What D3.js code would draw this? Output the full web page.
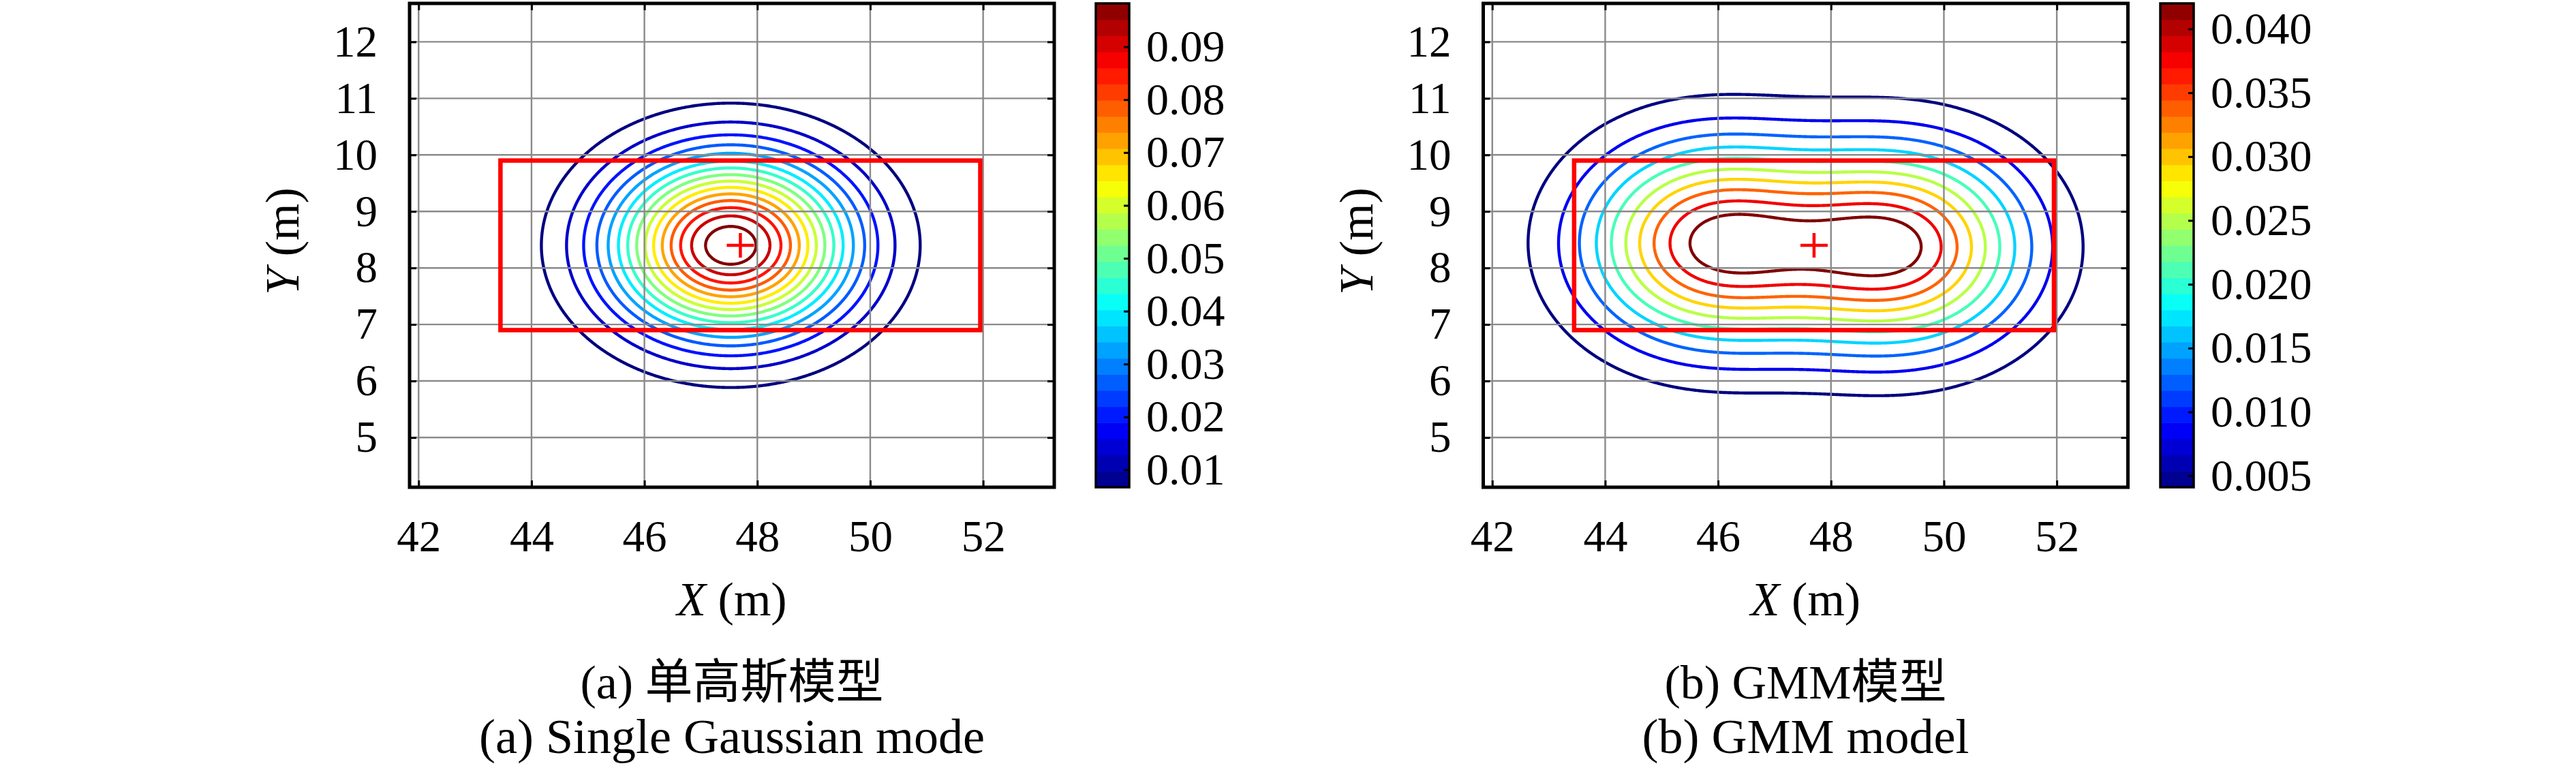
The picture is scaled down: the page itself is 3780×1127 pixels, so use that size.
<!DOCTYPE html>
<meta charset="UTF-8">
<title>单高斯模型 / GMM模型</title>
<style>
  body { margin: 0; background: #fff; }
</style>
<svg width="3780" height="1127"></svg>
<script src="https://d3js.org/d3.v7.min.js"></script>
<script>
// axes (metres)
var xDomain = [41.84, 53.26];
var yDomain = [4.12, 12.68];
var xTicks = [42, 44, 46, 48, 50, 52];
var yTicks = [5, 6, 7, 8, 9, 10, 11, 12];

// red box and the "+" reference point
var boxX = [43.45, 51.95];
var boxY = [6.9, 9.9];
var refPoint = [47.7, 8.4];

// (a) single gaussian model
var singleMean = [47.53, 8.40];
var singleSigma = [1.435, 1.076];
var levelsA = [0.0067, 0.0132, 0.0198, 0.0263, 0.0328, 0.0394, 0.0459, 0.0525,
               0.0590, 0.0655, 0.0721, 0.0786, 0.0851, 0.0917, 0.0982];
var cbTicksA = [0.01, 0.02, 0.03, 0.04, 0.05, 0.06, 0.07, 0.08, 0.09];
var captionA = ["(a) 单高斯模型", "(a) Single Gaussian mode"];

// (b) GMM model
var gmmWeights = [0.47, 0.47];
var gmmMeans = [[45.88, 8.44], [49.22, 8.37]];
var gmmSigmas = [[1.51, 1.2], [1.51, 1.2]];
var levelsB = [0.0041, 0.0083, 0.0125, 0.0167, 0.0209, 0.0252, 0.0294, 0.0336, 0.0378, 0.0420];
var cbTicksB = [0.005, 0.010, 0.015, 0.020, 0.025, 0.030, 0.035, 0.040];
var captionB = ["(b) GMM模型", "(b) GMM model"];

var serif = "'Liberation Serif', 'DejaVu Serif', 'Noto Sans CJK SC', serif";
var svg = d3.select("svg");
svg.append("rect").attr("width", 3780).attr("height", 1127).attr("fill", "#fff");

function gauss(px, py, m, s) {
  var u = (px - m[0]) / s[0], v = (py - m[1]) / s[1];
  return Math.exp(-0.5 * (u * u + v * v)) / (2 * Math.PI * s[0] * s[1]);
}

function jet(t) {
  var c = function(v) { return Math.max(0, Math.min(1, v)); };
  return d3.rgb(255 * c(1.5 - Math.abs(4 * t - 3)),
                255 * c(1.5 - Math.abs(4 * t - 2)),
                255 * c(1.5 - Math.abs(4 * t - 1))).formatHex();
}

function panel(left, cbLeft, density, levels, cbTicks, fmt, caption) {
  var top = 5, bottom = 715, right = left + 946;
  var x = d3.scaleLinear().domain(xDomain).range([left, right]);
  var y = d3.scaleLinear().domain(yDomain).range([bottom, top]);
  var g = svg.append("g");

  // density grid -> contour lines
  var step = 0.02;
  var nx = Math.round((xDomain[1] - xDomain[0]) / step) + 1,
      ny = Math.round((yDomain[1] - yDomain[0]) / step) + 1;
  var values = new Float64Array(nx * ny);
  for (var j = 0; j < ny; j++)
    for (var i = 0; i < nx; i++)
      values[i + j * nx] = density(xDomain[0] + i * step, yDomain[0] + j * step);

  var proj = d3.geoTransform({point: function(px, py) {
    this.stream.point(x(xDomain[0] + (px - 0.5) * step), y(yDomain[0] + (py - 0.5) * step));
  }});
  var cmin = levels[0], cmax = levels[levels.length - 1];

  g.append("g").selectAll("path")
    .data(d3.contours().size([nx, ny]).thresholds(levels)(values))
    .join("path")
      .attr("d", d3.geoPath(proj))
      .attr("fill", "none")
      .attr("stroke", function(d) { return jet((d.value - cmin) / (cmax - cmin)); })
      .attr("stroke-width", 4.4)
      .attr("stroke-linejoin", "round");

  // grid
  g.append("g").selectAll("line").data(xTicks).join("line")
      .attr("x1", x).attr("x2", x).attr("y1", top).attr("y2", bottom)
      .attr("stroke", "#8a8a8a").attr("stroke-width", 2.4);
  g.append("g").selectAll("line").data(yTicks).join("line")
      .attr("y1", y).attr("y2", y).attr("x1", left).attr("x2", right)
      .attr("stroke", "#8a8a8a").attr("stroke-width", 2.4);

  // red box + reference mark
  g.append("rect")
      .attr("x", x(boxX[0])).attr("y", y(boxY[1]))
      .attr("width", x(boxX[1]) - x(boxX[0])).attr("height", y(boxY[0]) - y(boxY[1]))
      .attr("fill", "none").attr("stroke", "#ff0000").attr("stroke-width", 6.5);
  g.append("path")
      .attr("d", "M" + (x(refPoint[0]) - 20) + "," + y(refPoint[1]) + "h40" +
                 "M" + x(refPoint[0]) + "," + (y(refPoint[1]) - 18) + "v36")
      .attr("stroke", "#ff0000").attr("stroke-width", 4.5);

  // axes
  var ax = g.append("g").attr("transform", "translate(0," + bottom + ")")
      .call(d3.axisBottom(x).tickValues(xTicks).tickSize(-10).tickPadding(48).tickFormat(d3.format("d")));
  var ay = g.append("g").attr("transform", "translate(" + left + ",0)")
      .call(d3.axisLeft(y).tickValues(yTicks).tickSize(-10).tickPadding(47).tickFormat(d3.format("d")));
  g.append("g").attr("transform", "translate(0," + top + ")")
      .call(d3.axisTop(x).tickValues(xTicks).tickSize(-10).tickFormat(""));
  g.append("g").attr("transform", "translate(" + right + ",0)")
      .call(d3.axisRight(y).tickValues(yTicks).tickSize(-10).tickFormat(""));
  g.selectAll(".domain").remove();
  g.selectAll(".tick line").attr("stroke", "#000").attr("stroke-width", 3);
  g.selectAll(".tick text").attr("fill", "#000");
  ax.attr("font-size", 65).attr("font-family", serif);
  ay.attr("font-size", 65).attr("font-family", serif);

  g.append("rect")
      .attr("x", left).attr("y", top).attr("width", right - left).attr("height", bottom - top)
      .attr("fill", "none").attr("stroke", "#000").attr("stroke-width", 5);

  // axis titles
  var xl = g.append("text").attr("x", (left + right) / 2).attr("y", 903)
      .attr("text-anchor", "middle").attr("font-family", serif).attr("font-size", 70);
  xl.append("tspan").attr("font-style", "italic").text("X");
  xl.append("tspan").text(" (m)");
  var yl = g.append("text").attr("transform", "translate(" + (left - 163) + ",354) rotate(-90)")
      .attr("text-anchor", "middle").attr("font-family", serif).attr("font-size", 70);
  yl.append("tspan").attr("font-style", "italic").text("Y");
  yl.append("tspan").text(" (m)");

  // colour bar
  var cb = d3.scaleLinear().domain([cmin, cmax]).range([bottom, top]);
  var nBands = 30, cbW = 49;
  var bands = d3.range(nBands);
  g.append("g").selectAll("rect").data(bands).join("rect")
      .attr("x", cbLeft)
      .attr("y", function(k) { return cb(cmin + (k + 1) * (cmax - cmin) / nBands); })
      .attr("width", cbW)
      .attr("height", function(k) { return cb(cmin + k * (cmax - cmin) / nBands) - cb(cmin + (k + 1) * (cmax - cmin) / nBands) + 0.6; })
      .attr("fill", function(k) { return jet((k + 0.5) / nBands); });
  var ac = g.append("g").attr("transform", "translate(" + (cbLeft + cbW) + ",0)")
      .call(d3.axisRight(cb).tickValues(cbTicks).tickSize(-8).tickPadding(25).tickFormat(d3.format(fmt)));
  ac.select(".domain").remove();
  ac.selectAll(".tick line").attr("stroke", "#000").attr("stroke-width", 3);
  ac.selectAll(".tick text").attr("fill", "#000");
  ac.attr("font-size", 66).attr("font-family", serif);
  g.append("rect")
      .attr("x", cbLeft).attr("y", top).attr("width", cbW).attr("height", bottom - top)
      .attr("fill", "none").attr("stroke", "#000").attr("stroke-width", 3.5);

  // sub captions
  g.selectAll("text.cap").data(caption).join("text")
      .attr("class", "cap")
      .attr("x", (left + right) / 2)
      .attr("y", function(d, i) { return i === 0 ? 1025 : 1105; })
      .attr("text-anchor", "middle").attr("font-family", serif)
      .attr("font-size", function(d, i) { return i === 0 ? 70 : 72; })
      .text(function(d) { return d; });
}

panel(601, 1608,
  function(px, py) { return gauss(px, py, singleMean, singleSigma); },
  levelsA, cbTicksA, ".2f", captionA);

panel(2176.5, 3170,
  function(px, py) {
    var s = 0;
    for (var k = 0; k < gmmWeights.length; k++) s += gmmWeights[k] * gauss(px, py, gmmMeans[k], gmmSigmas[k]);
    return s;
  },
  levelsB, cbTicksB, ".3f", captionB);
</script>
